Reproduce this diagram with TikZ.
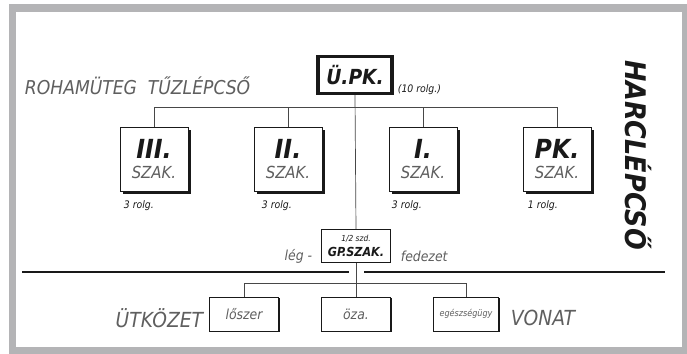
\documentclass[tikz,border=0pt]{standalone}
\usepackage{fontspec}
\newfontfamily\stencil{DejaVu Sans Condensed}
\usetikzlibrary{positioning,calc,shadows}
\definecolor{framegray}{RGB}{180,180,182}
\definecolor{inkdark}{RGB}{25,25,25}
\definecolor{inklight}{RGB}{95,95,95}
\newcommand{\numfont}{\stencil\itshape\bfseries\fontsize{19}{19}\selectfont\color{inkdark}}
\newcommand{\szakfont}{\stencil\itshape\fontsize{12}{12}\selectfont\color{inklight}}

\begin{document}
\begin{tikzpicture}[
  x=0.0254cm, y=-0.0254cm,
  unitbox/.style={draw=inkdark, line width=0.5pt, fill=white,
                  minimum width=1.72cm, minimum height=1.62cm,
                  inner sep=0pt, align=center,
                  drop shadow={shadow xshift=0.07cm, shadow yshift=-0.07cm,
                               fill=inkdark, opacity=1}},
  trainbox/.style={draw=inkdark, line width=0.5pt, fill=white,
                   minimum width=1.75cm, minimum height=0.86cm, inner sep=1pt,
                   font=\stencil\itshape\fontsize{10}{10}\selectfont, text=inklight,
                   drop shadow={shadow xshift=0.03cm, shadow yshift=-0.03cm,
                                fill=inkdark, opacity=1}},
  rolglab/.style={font=\stencil\itshape\fontsize{7.5}{8}\selectfont, text=inkdark, anchor=west},
  biglab/.style={font=\stencil\itshape\fontsize{15}{15}\selectfont, text=inklight},
  smalllab/.style={font=\stencil\itshape\fontsize{10}{10}\selectfont, text=inklight},
  link/.style={draw=inkdark!80, line width=0.5pt},
]

% frame
\fill[white] (0,0) rectangle (687,354);
\fill[framegray] (9,4) rectangle (687,354);
\fill[white] (16,12) rectangle (682,347);

% echelon titles
\node[biglab, font=\stencil\itshape\fontsize{13.8}{14}\selectfont, anchor=west]
  (roham) at (20,86) {ROHAMÜTEG\ \ TŰZLÉPCSŐ};
\node[font=\stencil\itshape\bfseries\fontsize{20.5}{21}\selectfont, text=inkdark,
      rotate=-90] (harc) at (638,155) {HARCLÉPCSŐ};

% command
\node[draw=inkdark, line width=2.2pt, minimum width=1.88cm, minimum height=0.94cm,
      font=\stencil\itshape\bfseries\fontsize{15}{15}\selectfont, text=inkdark]
  (upk) at (355,75) {Ü.PK.};
\node[rolglab] (upkrolg) at (393,90) {(10 rolg.)};

% companies
\node[unitbox] (iii) at (154,159) {{\numfont III.}\\[3pt]{\szakfont SZAK.}};
\node[unitbox] (ii) at (288,159) {{\numfont II.}\\[3pt]{\szakfont SZAK.}};
\node[unitbox] (i) at (423,159) {{\numfont I.}\\[3pt]{\szakfont SZAK.}};
\node[unitbox] (pk) at (557,159) {{\numfont PK.}\\[3pt]{\szakfont SZAK.}};

\node[rolglab] (iiirolg) at (119,206) {3 rolg.};
\node[rolglab] (iirolg) at (257,206) {3 rolg.};
\node[rolglab] (irolg) at (387,206) {3 rolg.};
\node[rolglab] (pkrolg) at (523,206) {1 rolg.};

% machine gun platoon
\node[draw=inkdark, line width=0.6pt, minimum width=1.76cm, minimum height=0.84cm,
      inner sep=1pt, align=center, text=inkdark] (gp) at (356,246)
  {{\stencil\itshape\fontsize{6}{6}\selectfont 1/2 szd.}\\[-1pt]{\stencil\itshape\bfseries\fontsize{9}{9}\selectfont GP.SZAK.}};
\node[smalllab, anchor=east] (leg) at (317,256) {lég -};
\node[smalllab, anchor=west] (fed) at (396,256) {fedezet};

% bus lines
\coordinate (bus) at (356,107);
\draw[link] (upk.south) -- (gp.north);
\draw[link] (iii.north) -- (iii.north |- bus) -- (pk.north |- bus) -- (pk.north);
\draw[link] (ii.north) -- (ii.north |- bus);
\draw[link] (i.north) -- (i.north |- bus);

% echelon boundary
\coordinate (sepL) at (22,272);
\coordinate (sepR) at (665,272);
\draw[line width=2pt, inkdark] (sepL) -- (349,272);
\draw[line width=2pt, inkdark] (364,272) -- (sepR);

% combat train
\node[trainbox] (losz) at (244,314) {lőszer};
\node[trainbox] (uza) at (356,314) {öza.};
\node[trainbox, minimum width=1.66cm] (eu) at (466,314)
  {\fontsize{6.5}{7}\selectfont egészségügy};
\coordinate (trainbus) at (356,283);
\draw[link] (gp.south) -- (uza.north);
\draw[link] (losz.north) -- (losz.north |- trainbus) -- (eu.north |- trainbus) -- (eu.north);

\node[biglab, anchor=east] (utk) at (208,318) {ÜTKÖZET};
\node[biglab, anchor=west] (vonat) at (506,318) {VONAT};

\end{tikzpicture}
\end{document}
